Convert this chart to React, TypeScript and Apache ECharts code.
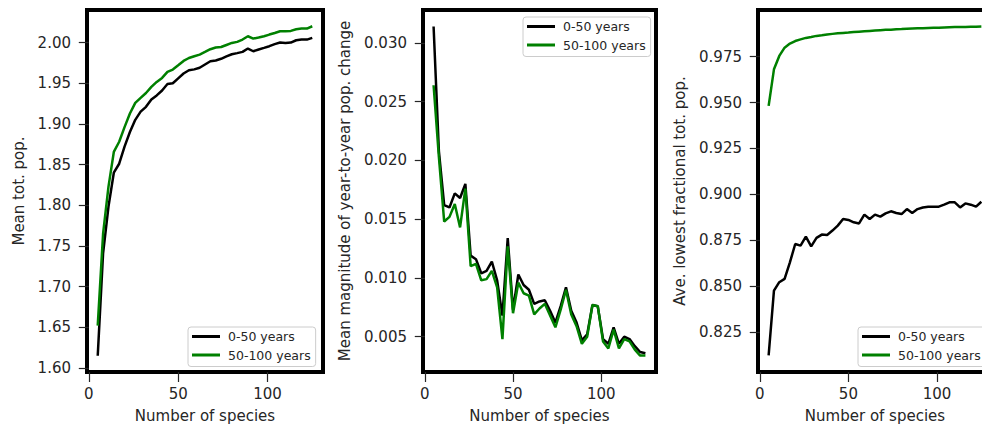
import { useEffect, useRef } from "react";
import * as echarts from "echarts";

// Number of species in each simulated community
const species = [
  5, 8, 11, 14, 17, 20, 23, 26, 29, 32, 35, 38, 41, 44, 47, 50, 53, 56, 59, 62, 65,
  68, 71, 74, 77, 80, 83, 86, 89, 92, 95, 98, 101, 104, 107, 110, 113, 116, 119, 122, 125,
];

// Mean total population
const meanPopEarly = [
  1.615, 1.741, 1.798, 1.84, 1.851, 1.872, 1.89, 1.905, 1.915, 1.921, 1.93, 1.935, 1.941,
  1.949, 1.95, 1.956, 1.962, 1.966, 1.967, 1.969, 1.973, 1.977, 1.978, 1.98, 1.983, 1.9856,
  1.987, 1.9885, 1.9926, 1.9893, 1.9914, 1.9934, 1.9955, 1.998, 2.0, 1.9995, 2.0, 2.0028,
  2.0036, 2.0036, 2.0058,
];
const meanPopLate = [
  1.652, 1.765, 1.8225, 1.8655, 1.878, 1.896, 1.9127, 1.9258, 1.932, 1.938, 1.9454, 1.9516,
  1.9565, 1.9639, 1.9668, 1.972, 1.9774, 1.981, 1.9832, 1.9852, 1.9884, 1.9918, 1.9939,
  1.9945, 1.997, 1.9995, 2.0008, 2.0037, 2.0077, 2.0049, 2.0061, 2.0077, 2.0098, 2.0118,
  2.0139, 2.0139, 2.0143, 2.0163, 2.0172, 2.0172, 2.02,
];

// Mean magnitude of year-to-year population change
const changeEarly = [
  0.0314, 0.0208, 0.0162, 0.016, 0.0172, 0.0168, 0.018, 0.0119, 0.0116, 0.0104, 0.0106,
  0.0114, 0.0098, 0.0068, 0.0134, 0.0073, 0.0103, 0.0094, 0.009, 0.0078, 0.008, 0.0081,
  0.0072, 0.0062, 0.0076, 0.0092, 0.0072, 0.0062, 0.0047, 0.0052, 0.0077, 0.0076, 0.0048,
  0.0044, 0.0058, 0.0044, 0.005, 0.0048, 0.0042, 0.0037, 0.0036,
];
const changeLate = [
  0.0264, 0.0203, 0.0148, 0.0152, 0.0163, 0.0143, 0.0176, 0.011, 0.0112, 0.0098, 0.0099,
  0.0106, 0.0092, 0.0048, 0.0127, 0.007, 0.0096, 0.0087, 0.0085, 0.0069, 0.0074, 0.0078,
  0.0068, 0.0058, 0.0073, 0.009, 0.0069, 0.0059, 0.0044, 0.005, 0.0077, 0.0076, 0.0046,
  0.004, 0.0056, 0.004, 0.0048, 0.0046, 0.0039, 0.0034, 0.0034,
];

// Average lowest fractional total population
const lowestEarly = [
  0.8123, 0.8476, 0.8522, 0.854, 0.863, 0.873, 0.8721, 0.877, 0.8717, 0.8763, 0.8781,
  0.8779, 0.8803, 0.883, 0.8866, 0.8861, 0.8848, 0.8842, 0.889, 0.8866, 0.889, 0.8879,
  0.8897, 0.8908, 0.8899, 0.8893, 0.892, 0.8899, 0.892, 0.8929, 0.8933, 0.8933, 0.8933,
  0.8944, 0.8957, 0.8957, 0.8929, 0.8951, 0.8944, 0.8933, 0.896,
];
const lowestLate = [
  0.9482, 0.9681, 0.9754, 0.9799, 0.9821, 0.9835, 0.9844, 0.9852, 0.9857, 0.9863, 0.9866,
  0.987, 0.9874, 0.9877, 0.9879, 0.9881, 0.9884, 0.9886, 0.9888, 0.989, 0.9892, 0.9894,
  0.9896, 0.9897, 0.9899, 0.99, 0.9902, 0.9903, 0.9904, 0.9905, 0.9906, 0.9907, 0.9908,
  0.9909, 0.991, 0.9911, 0.9911, 0.9912, 0.9913, 0.9913, 0.9914,
];

const seriesNames = ["0-50 years", "50-100 years"];
const seriesColors = ["#000000", "#008000"];

const xTicks = [0, 50, 100];
const popTicks = [1.6, 1.65, 1.7, 1.75, 1.8, 1.85, 1.9, 1.95, 2.0];
const changeTicks = [0.005, 0.01, 0.015, 0.02, 0.025, 0.03];
const lowestTicks = [0.825, 0.85, 0.875, 0.9, 0.925, 0.95, 0.975];

const FONT = "'DejaVu Sans', sans-serif";
const TEXT = "#262626";

type Panel = {
  left: number;
  width: number;
  yName: string;
  yMin: number;
  yMax: number;
  yTicks: number[];
  digits: number;
  nameGap: number;
  lines: number[][];
  legend: { left: number; top: number };
};

const panels: Panel[] = [
  {
    left: 87, width: 236, yName: "Mean tot. pop.", yMin: 1.595, yMax: 2.04,
    yTicks: popTicks, digits: 2, nameGap: 61,
    lines: [meanPopEarly, meanPopLate], legend: { left: 188, top: 327 },
  },
  {
    left: 423, width: 233, yName: "Mean magnitude of year-to-year pop. change",
    yMin: 0.002, yMax: 0.0328, yTicks: changeTicks, digits: 3, nameGap: 71,
    lines: [changeEarly, changeLate], legend: { left: 523, top: 17 },
  },
  {
    left: 758, width: 234, yName: "Ave. lowest fractional tot. pop.",
    yMin: 0.8033, yMax: 1.0004, yTicks: lowestTicks, digits: 3, nameGap: 71,
    lines: [lowestEarly, lowestLate], legend: { left: 858, top: 327 },
  },
];

function buildOption() {
  const tickText = { color: TEXT, fontSize: 15, fontFamily: FONT };
  const grid = panels.map((p) => ({
    left: p.left, top: 10, width: p.width, height: 362,
    show: true, borderColor: "#000", borderWidth: 4, backgroundColor: "#fff",
  }));
  const xAxis = panels.map((_, i) => ({
    type: "value", gridIndex: i, min: -1, max: 131,
    axisLine: { show: false }, splitLine: { show: false },
    axisTick: { show: true, length: 10, lineStyle: { color: TEXT, width: 1.2 }, customValues: xTicks },
    axisLabel: { ...tickText, margin: 14, customValues: xTicks },
    name: "Number of species", nameLocation: "middle", nameGap: 36,
    nameTextStyle: { ...tickText },
  }));
  const yAxis = panels.map((p, i) => ({
    type: "value", gridIndex: i, min: p.yMin, max: p.yMax,
    axisLine: { show: false }, splitLine: { show: false },
    axisTick: { show: true, length: 10, lineStyle: { color: TEXT, width: 1.2 }, customValues: p.yTicks },
    axisLabel: {
      ...tickText, margin: 16, customValues: p.yTicks,
      formatter: (v: number) => v.toFixed(p.digits),
    },
    name: p.yName, nameLocation: "middle", nameGap: p.nameGap,
    nameTextStyle: { ...tickText },
  }));
  const series = panels.flatMap((p, i) =>
    p.lines.map((vals, k) => ({
      type: "line", name: seriesNames[k], xAxisIndex: i, yAxisIndex: i,
      data: species.map((s, j) => [s, vals[j]]),
      showSymbol: false, symbol: "none",
      lineStyle: { color: seriesColors[k], width: 2.5 },
      itemStyle: { color: seriesColors[k] },
    }))
  );
  const legend = panels.map((p) => ({
    left: p.legend.left, top: p.legend.top, orient: "vertical",
    data: seriesNames.map((n) => ({ name: n, icon: "rect" })),
    itemWidth: 28, itemHeight: 3, itemGap: 3.5,
    padding: [2, 5, 4, 4],
    backgroundColor: "rgba(255,255,255,0.8)", borderColor: "#cccccc", borderWidth: 1, borderRadius: 3,
    textStyle: { color: TEXT, fontSize: 12.5, fontFamily: FONT, lineHeight: 15, padding: [0, 0, 0, 3] },
    selectedMode: false,
  }));
  return { animation: false, backgroundColor: "#fff", grid, xAxis, yAxis, series, legend };
}

export default function App() {
  const ref = useRef<HTMLDivElement>(null);
  useEffect(() => {
    const chart = echarts.init(ref.current!, null, { renderer: "svg" });
    chart.setOption(buildOption() as any);
    return () => chart.dispose();
  }, []);
  return (
    <div
      ref={ref}
      style={{ position: "fixed", left: 0, top: 0, width: 1000, height: 429, background: "#fff" }}
    />
  );
}
